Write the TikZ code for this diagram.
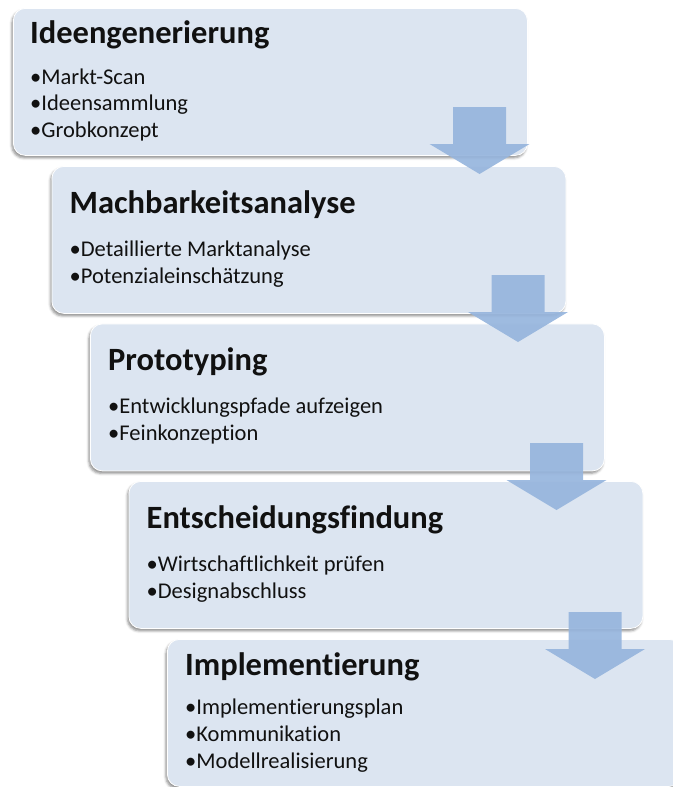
\documentclass[tikz,border=0pt]{standalone}
\usepackage{fontspec}
\setmainfont{Carlito}[Ligatures=NoCommon]
\usetikzlibrary{shadows.blur}
\definecolor{stagefill}{RGB}{220,229,241}
\definecolor{arrowfill}{RGB}{150,181,221}
\definecolor{inktext}{RGB}{17,17,17}
\tikzset{
  stagebox/.style={draw=white, line width=0.8pt, fill=stagefill,
    rounded corners=12pt, minimum width=514pt, minimum height=147pt,
    anchor=north west, inner sep=0pt,
    blur shadow={shadow xshift=-1.5pt, shadow yshift=-2.5pt,
      shadow blur radius=2.5pt, shadow opacity=45}},
  stagetitle/.style={anchor=base west, inner sep=0pt,
    font=\fontsize{32.5}{39}\selectfont\bfseries, text=inktext},
  stageitem/.style={anchor=base west, inner sep=0pt,
    font=\fontsize{22.5}{27}\selectfont, text=inktext},
  flowarrow/.style={fill=arrowfill, fill opacity=0.92},
}
% block arrow: centre x, top y
\newcommand\stagearrow[2]{%
  \fill[flowarrow] (#1-26.5,#2) -- (#1+26.5,#2) -- (#1+26.5,#2+37)
    -- (#1+50,#2+37) -- (#1,#2+67) -- (#1-50,#2+37)
    -- (#1-26.5,#2+37) -- cycle;}
\begin{document}
\begin{tikzpicture}[x=1pt, y=-1pt]
\useasboundingbox (0,0) rectangle (672,787);

% stages
\node[stagebox] (s1) at (13,8) {};
\node[stagebox] (s2) at (51.5,166) {};
\node[stagebox] (s3) at (90,323.5) {};
\node[stagebox] (s4) at (128.5,481) {};
\node[stagebox] (s5) at (167,639) {};

% stage 1
\node[stagetitle] (t1) at (30,43) {Ideengenerierung};
\node[stageitem] (i11) at (30,84) {•Markt-Scan};
\node[stageitem] (i12) at (30,110.5) {•Ideensammlung};
\node[stageitem] (i13) at (30,137) {•Grobkonzept};

% stage 2
\node[stagetitle] (t2) at (69.5,213) {Machbarkeitsanalyse};
\node[stageitem] (i21) at (69.5,256) {•Detaillierte Marktanalyse};
\node[stageitem] (i22) at (69.5,283) {•Potenzialeinschätzung};

% stage 3
\node[stagetitle] (t3) at (108,370.5) {Prototyping};
\node[stageitem] (i31) at (108,413.5) {•Entwicklungspfade aufzeigen};
\node[stageitem] (i32) at (108,440.5) {•Feinkonzeption};

% stage 4
\node[stagetitle] (t4) at (146.5,528) {Entscheidungsfindung};
\node[stageitem] (i41) at (146.5,571) {•Wirtschaftlichkeit prüfen};
\node[stageitem] (i42) at (146.5,598) {•Designabschluss};

% stage 5
\node[stagetitle] (t5) at (185,675) {Implementierung};
\node[stageitem] (i51) at (185,714.5) {•Implementierungsplan};
\node[stageitem] (i52) at (185,741.5) {•Kommunikation};
\node[stageitem] (i53) at (185,768) {•Modellrealisierung};

% arrows between stages
\stagearrow{479.5}{107}
\stagearrow{518}{275}
\stagearrow{556.5}{443}
\stagearrow{595}{612}
\end{tikzpicture}
\end{document}
